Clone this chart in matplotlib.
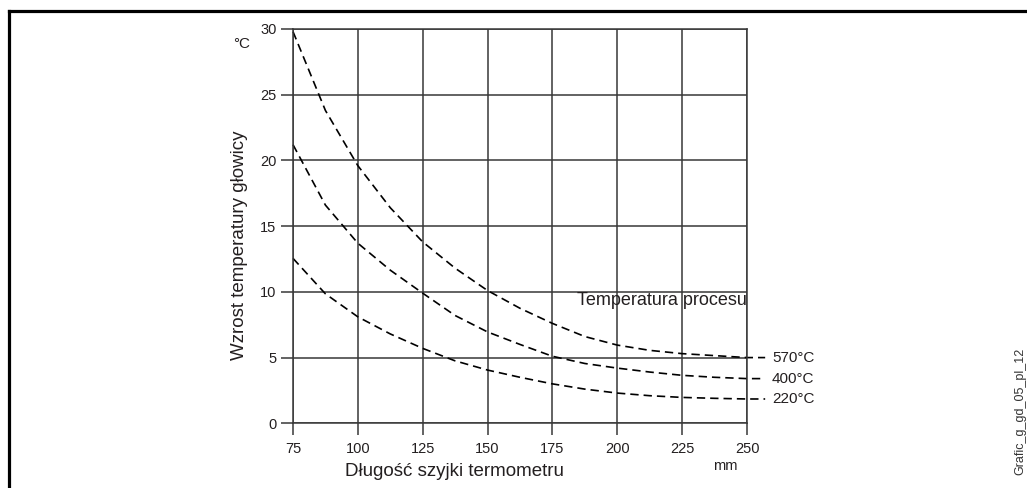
import numpy as np
import matplotlib.pyplot as plt
from matplotlib.lines import Line2D

plt.rcParams['font.family'] = ['Liberation Sans', 'DejaVu Sans']

# neck length (mm) and head temperature rise (°C) per process temperature
length = [75, 87.5, 100, 112.5, 125, 137.5, 150, 162.5, 175, 187.5, 200, 212.5, 225, 237.5, 250]
rise_570 = [29.8, 23.8, 19.6, 16.4, 13.8, 11.8, 10.1, 8.75, 7.6, 6.6, 5.95, 5.55, 5.3, 5.15, 5.0]
rise_400 = [21.2, 16.6, 13.7, 11.65, 9.9, 8.2, 6.95, 6.0, 5.1, 4.55, 4.2, 3.9, 3.65, 3.5, 3.4]
rise_220 = [12.55, 9.85, 8.1, 6.8, 5.7, 4.75, 4.05, 3.5, 3.0, 2.6, 2.3, 2.1, 1.97, 1.9, 1.85]
series = [('570°C', rise_570), ('400°C', rise_400), ('220°C', rise_220)]

xticks = [75, 100, 125, 150, 175, 200, 225, 250]
yticks = [0, 5, 10, 15, 20, 25, 30]

txt = '#231f20'
grid_c = '#383838'

fig = plt.figure(figsize=(10.27, 4.88), dpi=100)
ax = fig.add_axes([293 / 1027, 1 - 423.3 / 488, 454 / 1027, 394.3 / 488])

ax.set_xlim(75, 250)
ax.set_ylim(0, 30)
ax.set_xticks(xticks)
ax.set_yticks(yticks)
ax.grid(True, color=grid_c, lw=1.1)
ax.set_axisbelow(True)
for s in ax.spines.values():
    s.set_color(grid_c)
    s.set_linewidth(1.1)
ax.tick_params(axis='both', colors=grid_c, labelcolor=txt, labelsize=10.5,
               length=8.8, width=1.1, direction='out')
ax.tick_params(axis='y', pad=3)
ax.tick_params(axis='x', pad=5)

# curves with short leader to the label on the right
lead_end = 257
for name, vals in series:
    xs = np.append(length, lead_end)
    ys = np.append(vals, vals[-1])
    ax.plot(xs, ys, color='black', lw=1.2, linestyle=(0, (5, 3)), clip_on=False)
    ax.text(259.6, vals[-1], name, va='center', ha='left', fontsize=11,
            color=txt, clip_on=False)

ax.text(250, 9.33, 'Temperatura procesu', ha='right', va='center', fontsize=13, color=txt)

fig.text(240 / 1027, 1 - 245 / 488, 'Wzrost temperatury głowicy', rotation=90,
         ha='center', va='center', fontsize=13.5, color=txt)
fig.text(233 / 1027, 1 - 48 / 488, '°C', ha='left', va='baseline', fontsize=11, color=txt)
fig.text(345 / 1027, 1 - 476 / 488, 'Długość szyjki termometru', ha='left', va='baseline',
         fontsize=13.5, color=txt)
fig.text(713 / 1027, 1 - 470 / 488, 'mm', ha='left', va='baseline', fontsize=10.5, color=txt)
fig.text(1020 / 1027, 1 - 475 / 488, 'Grafic_g_gd_05_pl_12', rotation=90,
         ha='center', va='bottom', fontsize=9, color='#333333')

# frame lines at top and left of the picture
fig.add_artist(Line2D([9 / 1027, 1], [1 - 11 / 488, 1 - 11 / 488], color='black', lw=2.3))
fig.add_artist(Line2D([9 / 1027, 9 / 1027], [0, 1 - 11 / 488], color='black', lw=2.3))

fig.savefig('out.png', dpi=100)
